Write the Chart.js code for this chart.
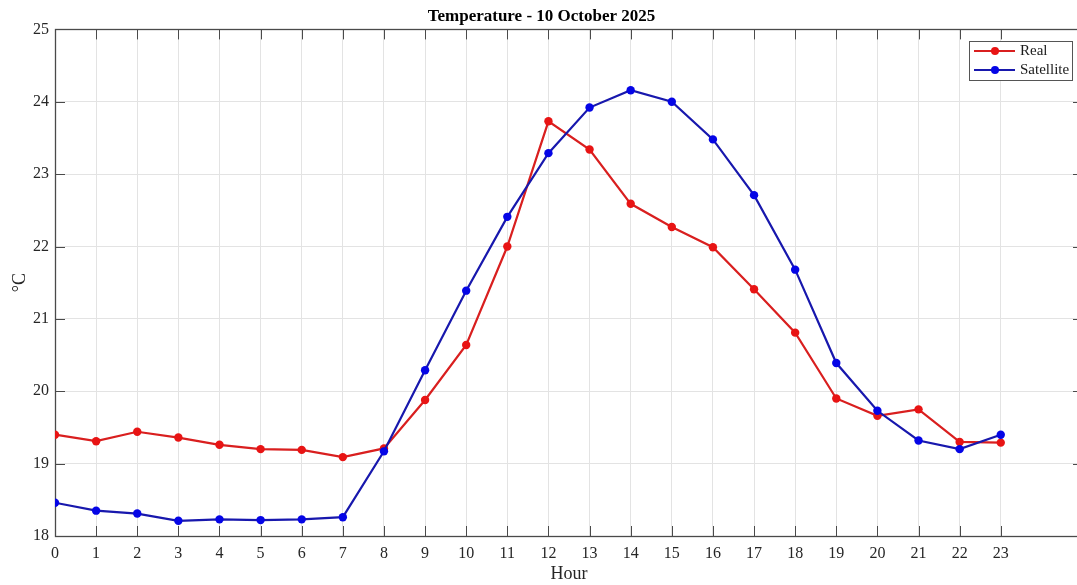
<!DOCTYPE html>
<html>
<head>
<meta charset="utf-8">
<title>Temperature - 10 October 2025</title>
<script src="https://cdn.jsdelivr.net/npm/chart.js@4.4.1/dist/chart.umd.min.js"></script>
<style>
	html, body { margin: 0; padding: 0; background: #ffffff; overflow: hidden; }
	#wrap { width: 1090px; height: 585px; }
</style>
</head>
<body>
<div id="wrap"><canvas id="tempChart" width="1090" height="585"></canvas></div>
<script>
// hourly readings, degrees C
var hours = [0, 1, 2, 3, 4, 5, 6, 7, 8, 9, 10, 11, 12, 13, 14, 15, 16, 17, 18, 19, 20, 21, 22, 23];
var realTemp = [19.40, 19.31, 19.44, 19.36, 19.26, 19.20, 19.19, 19.09, 19.21, 19.88, 20.64, 22.00,
	23.73, 23.34, 22.59, 22.27, 21.99, 21.41, 20.81, 19.90, 19.66, 19.75, 19.30, 19.29];
var satelliteTemp = [18.46, 18.35, 18.31, 18.21, 18.23, 18.22, 18.23, 18.26, 19.17, 20.29, 21.39, 22.41,
	23.29, 23.92, 24.16, 24.00, 23.48, 22.71, 21.68, 20.39, 19.73, 19.32, 19.20, 19.40];
var yTicks = [18, 19, 20, 21, 22, 23, 24, 25];

var serif = "'Liberation Serif', 'Times New Roman', serif";

function toPoints(values) {
	return hours.map(function (h, i) { return { x: h, y: values[i] }; });
}

// box around the axes with inward ticks on all four sides
var framePlugin = {
	id: 'frame',
	beforeDatasetsDraw: function (chart) {
		var ctx = chart.ctx, a = chart.chartArea;
		var xs = chart.scales.x, ys = chart.scales.y;
		var len = 10;
		ctx.save();
		ctx.strokeStyle = '#4a4a4a';
		ctx.lineWidth = 1;
		ctx.beginPath();
		xs.ticks.forEach(function (t) {
			var px = Math.round(xs.getPixelForValue(t.value)) + 0.5;
			ctx.moveTo(px, a.bottom); ctx.lineTo(px, a.bottom - len);
			ctx.moveTo(px, a.top); ctx.lineTo(px, a.top + len);
		});
		ys.ticks.forEach(function (t) {
			var py = Math.round(ys.getPixelForValue(t.value)) + 0.5;
			ctx.moveTo(a.left, py); ctx.lineTo(a.left + len, py);
			ctx.moveTo(a.right, py); ctx.lineTo(a.right - len, py);
		});
		ctx.stroke();
		ctx.lineWidth = 1.3;
		ctx.strokeRect(Math.round(a.left) + 0.5, Math.round(a.top) + 0.5,
			Math.round(a.right - a.left), Math.round(a.bottom - a.top));
		ctx.restore();
	}
};

// boxed legend in the upper right corner
var boxLegendPlugin = {
	id: 'boxLegend',
	afterDraw: function (chart) {
		var ctx = chart.ctx;
		var sets = chart.data.datasets;
		var left = 969, top = 41, width = 103, rowH = 19;
		var height = rowH * sets.length + 1;
		ctx.save();
		ctx.fillStyle = '#ffffff';
		ctx.fillRect(left, top, width, height);
		ctx.strokeStyle = '#555555';
		ctx.lineWidth = 1;
		ctx.strokeRect(left + 0.5, top + 0.5, width, height);
		ctx.font = '15px ' + serif;
		ctx.textBaseline = 'middle';
		sets.forEach(function (ds, i) {
			var y = top + 10 + i * rowH;
			ctx.strokeStyle = ds.borderColor;
			ctx.lineWidth = 2;
			ctx.beginPath();
			ctx.moveTo(left + 5, y);
			ctx.lineTo(left + 46, y);
			ctx.stroke();
			ctx.fillStyle = ds.pointBackgroundColor;
			ctx.beginPath();
			ctx.arc(left + 26, y, 4, 0, Math.PI * 2);
			ctx.fill();
			ctx.fillStyle = '#1a1a1a';
			ctx.fillText(ds.label, left + 51, y);
		});
		ctx.restore();
	}
};

var ctx = document.getElementById('tempChart');
var tempChart = new Chart(ctx, {
	type: 'line',
	data: {
		datasets: [{
			label: 'Real',
			data: toPoints(realTemp),
			borderColor: '#d91f1f',
			backgroundColor: '#e81414',
			pointBackgroundColor: '#e81414',
			pointBorderColor: '#e81414',
			borderWidth: 2.2,
			pointRadius: 4.2,
			pointBorderWidth: 0,
			tension: 0,
			order: 1
		}, {
			label: 'Satellite',
			data: toPoints(satelliteTemp),
			borderColor: '#1818ad',
			backgroundColor: '#0505e6',
			pointBackgroundColor: '#0505e6',
			pointBorderColor: '#0505e6',
			borderWidth: 2.2,
			pointRadius: 4.2,
			pointBorderWidth: 0,
			tension: 0,
			order: 0
		}]
	},
	options: {
		responsive: false,
		animation: false,
		layout: { padding: { left: 0, right: 7, top: 0, bottom: 0 } },
		plugins: {
			legend: { display: false },
			tooltip: { enabled: false },
			title: {
				display: true,
				text: 'Temperature - 10 October 2025',
				color: '#000000',
				font: { family: serif, size: 17, weight: 'bold' },
				padding: { top: 6, bottom: 3 }
			}
		},
		scales: {
			x: {
				type: 'linear',
				min: 0,
				max: 25,
				afterBuildTicks: function (scale) {
					scale.ticks = hours.map(function (h) { return { value: h }; });
				},
				afterFit: function (scale) { scale.height = 49; },
				grid: { color: '#e3e3e3', drawTicks: false },
				border: { display: false },
				ticks: {
					padding: 8,
					maxRotation: 0,
					autoSkip: false,
					color: '#262626',
					font: { family: serif, size: 16 }
				},
				title: {
					display: true,
					text: 'Hour',
					color: '#262626',
					font: { family: serif, size: 18 },
					padding: { top: 0, bottom: 0 }
				}
			},
			y: {
				min: 18,
				max: 25,
				afterBuildTicks: function (scale) {
					scale.ticks = yTicks.map(function (v) { return { value: v }; });
				},
				afterFit: function (scale) { scale.width = 55; },
				grid: { color: '#e3e3e3', drawTicks: false },
				border: { display: false },
				ticks: {
					padding: 6,
					color: '#262626',
					font: { family: serif, size: 16 }
				},
				title: {
					display: true,
					text: '°C',
					color: '#262626',
					font: { family: serif, size: 18 },
					padding: { top: 9, bottom: 0 }
				}
			}
		}
	},
	plugins: [framePlugin, boxLegendPlugin]
});
</script>
</body>
</html>
